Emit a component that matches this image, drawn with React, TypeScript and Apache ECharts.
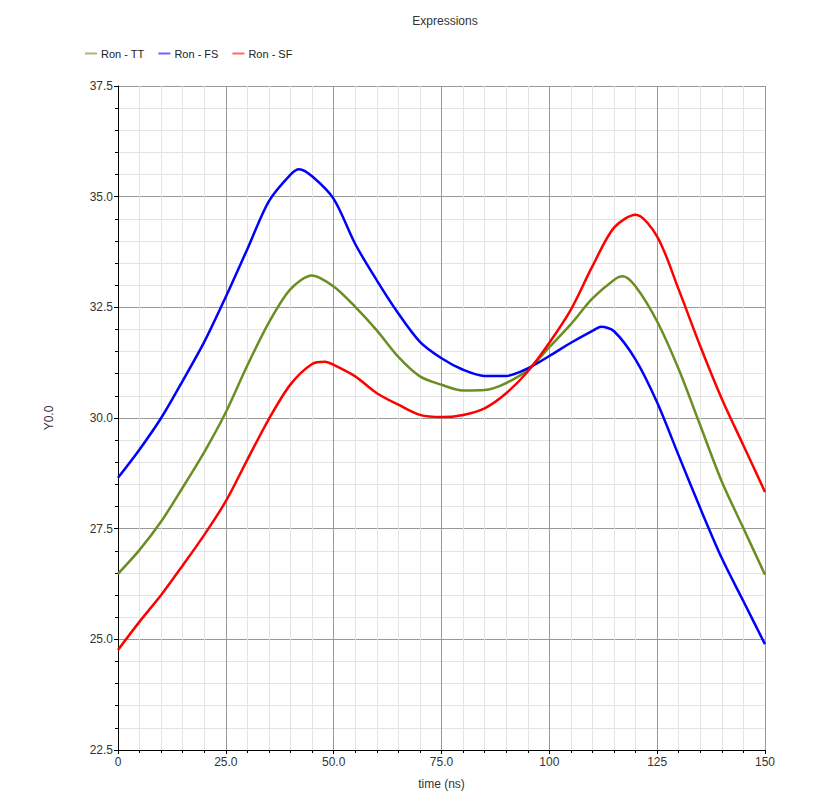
import React, { useEffect, useRef } from "react";
import * as echarts from "echarts";

// Ron - TT
const ttTime = [0, 5, 10, 15, 20, 25, 30, 35, 40, 45, 50, 55, 60, 65, 70, 75, 80, 85, 90, 95, 100, 105, 110, 115, 117, 120, 125, 130, 135, 140, 145, 150];
const ttValues = [26.48, 27.02, 27.66, 28.43, 29.23, 30.13, 31.19, 32.16, 32.91, 33.22, 32.97, 32.51, 31.98, 31.38, 30.94, 30.75, 30.62, 30.63, 30.79, 31.09, 31.6, 32.12, 32.7, 33.12, 33.2, 32.97, 32.18, 31.1, 29.83, 28.56, 27.51, 26.46];
// Ron - FS
const fsTime = [0, 5, 10, 15, 20, 25, 30, 35, 40, 42, 45, 50, 55, 60, 65, 70, 75, 80, 85, 90, 95, 100, 105, 110, 112, 115, 120, 125, 130, 135, 140, 145, 150];
const fsValues = [28.65, 29.29, 30.0, 30.84, 31.72, 32.74, 33.82, 34.9, 35.5, 35.62, 35.46, 34.95, 33.93, 33.11, 32.36, 31.72, 31.35, 31.09, 30.95, 30.95, 31.12, 31.4, 31.7, 31.97, 32.06, 31.96, 31.32, 30.35, 29.15, 27.96, 26.83, 25.86, 24.89];
// Ron - SF
const sfTime = [0, 5, 10, 15, 20, 25, 30, 35, 40, 45, 48, 50, 55, 60, 65, 70, 75, 80, 85, 90, 95, 100, 105, 110, 115, 120, 125, 130, 135, 140, 145, 150];
const sfValues = [24.76, 25.4, 26.0, 26.67, 27.36, 28.12, 29.06, 29.98, 30.76, 31.22, 31.27, 31.2, 30.94, 30.56, 30.3, 30.07, 30.02, 30.07, 30.22, 30.56, 31.05, 31.7, 32.45, 33.43, 34.3, 34.59, 34.1, 32.9, 31.62, 30.43, 29.38, 28.33];

const seriesNames = ["Ron - TT", "Ron - FS", "Ron - SF"];
const seriesColors = ["#6b8e23", "#0000ff", "#ff0000"];
const seriesTimes = [ttTime, fsTime, sfTime];
const seriesValues = [ttValues, fsValues, sfValues];

const FONT = "Liberation Sans, Arial, sans-serif";

export default function App() {
  const ref = useRef<HTMLDivElement>(null);
  useEffect(() => {
    if (!ref.current) return;
    const chart = echarts.init(ref.current, undefined, { renderer: "svg" });
    chart.setOption({
      animation: false,
      backgroundColor: "#ffffff",
      textStyle: { fontFamily: FONT },
      title: {
        text: "Expressions",
        left: 440,
        textAlign: "center",
        top: 10,
        textStyle: { fontSize: 12, fontWeight: "normal", color: "#333", fontFamily: FONT },
      },
      legend: {
        left: 80,
        top: 43,
        itemWidth: 12,
        itemHeight: 2,
        itemGap: 14,
        icon: "rect",
        textStyle: { fontSize: 11, color: "#222", fontFamily: FONT, padding: [0, 0, 0, -1] },
        data: seriesNames.map((n, i) => ({
          name: n,
          itemStyle: { color: seriesColors[i], opacity: 0.6 },
        })),
      },
      grid: { left: 118, top: 86, right: 68, bottom: 43, containLabel: false },
      xAxis: {
        type: "value",
        min: 0,
        max: 150,
        interval: 25,
        name: "time (ns)",
        nameLocation: "middle",
        nameGap: 28,
        nameTextStyle: { fontSize: 12, color: "#333", fontFamily: FONT },
        axisLine: { show: true, lineStyle: { color: "#000", width: 1 } },
        axisTick: { show: true, length: 4, lineStyle: { color: "#000" } },
        minorTick: { show: true, splitNumber: 5, length: 3, lineStyle: { color: "#000" } },
        axisLabel: {
          fontSize: 12,
          color: "#333",
          margin: 6,
          fontFamily: FONT,
          formatter: (v: number) => (v === 0 ? "0" : v < 100 ? v.toFixed(1) : String(v)),
        },
        splitLine: { show: true, lineStyle: { color: "#999", width: 1 } },
        minorSplitLine: { show: true, lineStyle: { color: "#e4e4e4", width: 1 } },
      },
      yAxis: {
        type: "value",
        min: 22.5,
        max: 37.5,
        interval: 2.5,
        name: "Y0.0",
        nameLocation: "middle",
        nameGap: 63,
        nameRotate: 90,
        nameTextStyle: { fontSize: 12, color: "#333", fontFamily: FONT },
        axisLine: { show: true, lineStyle: { color: "#000", width: 1 } },
        axisTick: { show: true, length: 4, lineStyle: { color: "#000" } },
        minorTick: { show: true, splitNumber: 5, length: 3, lineStyle: { color: "#000" } },
        axisLabel: {
          fontSize: 12,
          color: "#333",
          margin: 5,
          fontFamily: FONT,
          formatter: (v: number) => v.toFixed(1),
        },
        splitLine: { show: true, lineStyle: { color: "#999", width: 1 } },
        minorSplitLine: { show: true, lineStyle: { color: "#e4e4e4", width: 1 } },
      },
      series: seriesNames.map((n, i) => ({
        name: n,
        type: "line",
        symbol: "none",
        smooth: 0.3,
        data: seriesTimes[i].map((t, j) => [t, seriesValues[i][j]]),
        lineStyle: { color: seriesColors[i], width: 2.5 },
        itemStyle: { color: seriesColors[i] },
        z: 3 + i,
      })),
    });
    return () => chart.dispose();
  }, []);
  return (
    <div
      ref={ref}
      style={{ position: "fixed", left: 0, top: 0, width: 833, height: 795 }}
    />
  );
}
